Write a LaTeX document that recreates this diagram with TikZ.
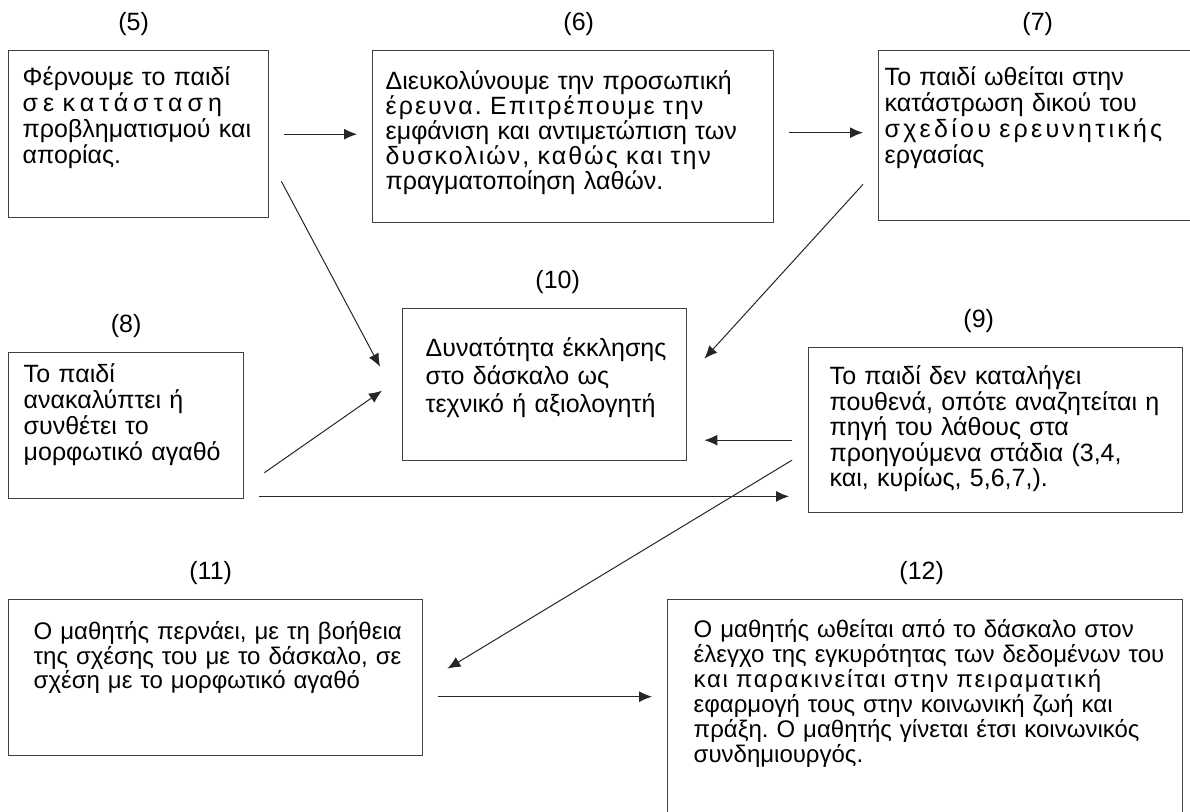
\documentclass[tikz,border=0pt]{standalone}
\usepackage{fontspec}
\setmainfont{Liberation Sans}
\usepackage{tikz}
\usetikzlibrary{arrows.meta, positioning}

\newcommand{\boxtext}[3]{\hspace*{#1}\parbox[t]{#2}{\frenchspacing#3}}
\newcommand{\jl}[1]{\makebox[\linewidth][s]{#1}\\}
\newcommand{\lsl}[2]{\makebox[\linewidth][s]{\addfontfeature{LetterSpace=#1}#2}\\}

\begin{document}
\begin{tikzpicture}[->, >={Latex[length=6.5pt,width=5.5pt]}, x=0.5pt, y=-0.5pt, thin, node distance=7pt, font=\fontsize{12.5pt}{13pt}\selectfont]
\tikzstyle{box}=[draw=black!75, line width=0.7pt, anchor=north west, inner sep=0pt, align=left]
\tikzstyle{lbl}=[inner sep=0pt]
\tikzstyle{link}=[black!85, line width=0.5pt]

\useasboundingbox (0,0) rectangle (1190,812);
\clip (0,0) rectangle (1190,812);

% top row
\node[box, text width=130pt, text height=17.5pt, text depth=66pt, font=\fontsize{12.5pt}{11.25pt}\selectfont] (b5) at (8,50)
  {\boxtext{7pt}{112.5pt}{\jl{Φέρνουμε το παιδί}\lsl{20}{σε κατάσταση}\jl{προβληματισμού και}απορίας.}};
\node[box, text width=200.5pt, text height=19.5pt, text depth=66.5pt, font=\fontsize{12.5pt}{12.5pt}\selectfont] (b6) at (372,50)
  {\boxtext{6.5pt}{190pt}{\jl{Διευκολύνουμε την προσωπική}\lsl{8}{έρευνα. Επιτρέπουμε την}\jl{εμφάνιση και αντιμετώπιση των}\lsl{8}{δυσκολιών, καθώς και την}πραγματοποίηση λαθών.}};
\node[box, text width=170pt, text height=17.5pt, text depth=67.5pt, font=\fontsize{12.5pt}{11.75pt}\selectfont] (b7) at (878,50)
  {\boxtext{3pt}{149pt}{\jl{Το παιδί ωθείται στην}\jl{κατάστρωση δικού του}\lsl{13}{σχεδίου ερευνητικής}εργασίας}};

\node[lbl, above=of b5, xshift=-2.5pt] (n5) {(5)};
\node[lbl, above=of b6, xshift=2.75pt] (n6) {(6)};
\node[lbl, above=of b7, xshift=-5.5pt] (n7) {(7)};

% middle row
\node[box, text width=142pt, text height=24pt, text depth=52pt, font=\fontsize{12.5pt}{14pt}\selectfont] (b10) at (402,308)
  {\boxtext{11.5pt}{128pt}{Δυνατότητα έκκλησης\\στο δάσκαλο ως\\τεχνικό ή αξιολογητή}};
\node[box, text width=117.5pt, text height=15pt, text depth=58pt, font=\fontsize{12.5pt}{13pt}\selectfont] (b8) at (8,352)
  {\boxtext{7.5pt}{108pt}{Το παιδί\\ανακαλύπτει ή\\συνθέτει το\\μορφωτικό αγαθό}};
\node[box, text width=187pt, text height=18.5pt, text depth=64pt, font=\fontsize{12.5pt}{12.75pt}\selectfont] (b9) at (808,347)
  {\boxtext{10.5pt}{175pt}{Το παιδί δεν καταλήγει\\πουθενά, οπότε αναζητείται η\\πηγή του λάθους στα\\προηγούμενα στάδια (3,4,\\και, κυρίως, 5,6,7,).}};

\node[lbl, above=of b10, xshift=6.5pt] (n10) {(10)};
\node[lbl, above=of b8] (n8) {(8)};
\node[lbl, above=of b9, xshift=-8.5pt] (n9) {(9)};

% bottom row
\node[box, text width=207pt, text height=20pt, text depth=58pt, font=\fontsize{12pt}{12.25pt}\selectfont] (b11) at (8,599)
  {\boxtext{12.5pt}{185.5pt}{\jl{Ο μαθητής περνάει, με τη βοήθεια}\jl{της σχέσης του με το δάσκαλο, σε}σχέση με το μορφωτικό αγαθό}};
\node[box, text width=257.5pt, text height=19pt, text depth=88.5pt, font=\fontsize{12pt}{12.5pt}\selectfont] (b12) at (667,599)
  {\boxtext{13pt}{240pt}{\jl{Ο μαθητής ωθείται από το δάσκαλο στον}\jl{έλεγχο της εγκυρότητας των δεδομένων του}\lsl{7}{και παρακινείται στην πειραματική}\jl{εφαρμογή τους στην κοινωνική ζωή και}\jl{πράξη. Ο μαθητής γίνεται έτσι κοινωνικός}συνδημιουργός.}};

\node[lbl, above=of b11, xshift=-2.5pt] (n11) {(11)};
\node[lbl, above=of b12, xshift=-1.75pt] (n12) {(12)};

% arrows
\draw[link, shorten <=7.5pt, shorten >=7.5pt] (b5.east) -- (b5.east -| b6.west);
\coordinate (p6) at ([shift={(0,-4)}]b6.east);
\draw[link, shorten <=7.5pt, shorten >=7.5pt] (p6) -- (p6 -| b7.west);
\draw[link] ([shift={(12,-37)}]b5.south east) -- ([shift={(-22,-18)}]b10.west);
\draw[link] ([shift={(-15,-37)}]b7.south west) -- ([shift={(17,-26)}]b10.east);
\draw[link] ([shift={(20,47)}]b8.east) -- ([shift={(-20,6)}]b10.west);
\coordinate (p9) at ([shift={(-16,10)}]b9.west);
\draw[link, shorten >=8.5pt] (p9) -- (p9 -| b10.east);
\coordinate (p8) at ([shift={(15,-3)}]b8.south east);
\draw[link, shorten >=9.5pt] (p8) -- (p8 -| b9.west);
\draw[link] ([shift={(-16,30)}]b9.west) -- ([shift={(24,-9)}]b11.east);
\coordinate (p11) at ([shift={(15,19)}]b11.east);
\draw[link, shorten >=7.5pt] (p11) -- (p11 -| b12.west);
\end{tikzpicture}
\end{document}
